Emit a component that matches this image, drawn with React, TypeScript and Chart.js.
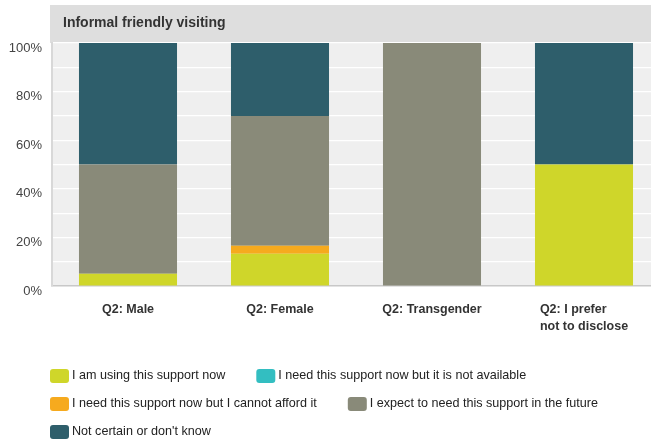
import React, { useEffect, useRef } from "react";
import { Chart, registerables } from "chart.js";

Chart.register(...registerables);

const chartTitle = "Informal friendly visiting";
const categories: string[][] = [
  ["Q2: Male"],
  ["Q2: Female"],
  ["Q2: Transgender"],
  ["Q2: I prefer", "not to disclose"],
];
const usingNow = [5, 13.3, 0, 50];
const notAvailable = [0, 0, 0, 0];
const cannotAfford = [0, 3.3, 0, 0];
const expectFuture = [45, 53.4, 100, 0];
const notCertain = [50, 30, 0, 50];

const seriesNames = [
  "I am using this support now",
  "I need this support now but it is not available",
  "I need this support now but I cannot afford it",
  "I expect to need this support in the future",
  "Not certain or don't know",
];
const seriesColors = ["#cfd62a", "#33bec1", "#f6aa1e", "#898a79", "#2e5e6b"];

const FONT = "'Liberation Sans', Arial, sans-serif";

function roundRect(ctx: CanvasRenderingContext2D, x: number, y: number, w: number, h: number, r: number) {
  ctx.beginPath();
  ctx.moveTo(x + r, y);
  ctx.lineTo(x + w - r, y);
  ctx.quadraticCurveTo(x + w, y, x + w, y + r);
  ctx.lineTo(x + w, y + h - r);
  ctx.quadraticCurveTo(x + w, y + h, x + w - r, y + h);
  ctx.lineTo(x + r, y + h);
  ctx.quadraticCurveTo(x, y + h, x, y + h - r);
  ctx.lineTo(x, y + r);
  ctx.quadraticCurveTo(x, y, x + r, y);
  ctx.closePath();
}

const decorPlugin = {
  id: "decor",
  beforeDraw(chart: any) {
    const { ctx, chartArea } = chart;
    ctx.save();
    ctx.fillStyle = "#ffffff";
    ctx.fillRect(0, 0, chart.width, chart.height);
    // header band
    ctx.fillStyle = "#dedede";
    ctx.fillRect(50, 5, chart.width - 50, chartArea.top - 5);
    ctx.fillStyle = "#333333";
    ctx.font = `bold 14px ${FONT}`;
    ctx.textBaseline = "middle";
    ctx.textAlign = "left";
    ctx.fillText(chartTitle, 63, 23);
    // plot background
    ctx.fillStyle = "#efefef";
    ctx.fillRect(chartArea.left, chartArea.top, chartArea.right - chartArea.left, chartArea.bottom - chartArea.top);
    ctx.restore();
  },
  afterDraw(chart: any) {
    const { ctx, chartArea } = chart;
    const xScale = chart.scales.x;
    ctx.save();
    // category labels
    ctx.font = `bold 12.5px ${FONT}`;
    ctx.fillStyle = "#333333";
    ctx.textBaseline = "middle";
    ctx.textAlign = "left";
    const labels = chart.data.labels as string[][];
    labels.forEach((lines, i) => {
      const cx = xScale.getPixelForValue(i);
      const maxW = Math.max(...lines.map((l) => ctx.measureText(l).width));
      const x0 = cx - maxW / 2;
      lines.forEach((line, j) => {
        const w = ctx.measureText(line).width;
        const x = lines.length > 1 ? x0 : cx - w / 2;
        ctx.fillText(line, x, chartArea.bottom + 24 + j * 17);
      });
    });
    // legend (flow layout)
    ctx.font = `12.6px ${FONT}`;
    ctx.fillStyle = "#222222";
    const rowYs = [376, 404, 432];
    let row = 0;
    let x = 50;
    const maxRight = 645;
    chart.data.datasets.forEach((ds: any) => {
      const tw = ctx.measureText(ds.label).width;
      const itemW = 22 + tw;
      if (x > 50 && x + itemW > maxRight) {
        row += 1;
        x = 50;
      }
      const cy = rowYs[row];
      ctx.fillStyle = ds.backgroundColor;
      roundRect(ctx, x, cy - 7, 19, 14, 3);
      ctx.fill();
      ctx.fillStyle = "#222222";
      ctx.fillText(ds.label, x + 22, cy);
      x += itemW + 31;
    });
    ctx.restore();
  },
};

export default function App() {
  const canvasRef = useRef<HTMLCanvasElement | null>(null);

  useEffect(() => {
    if (!canvasRef.current) return;
    const series = [usingNow, notAvailable, cannotAfford, expectFuture, notCertain];
    const chart = new Chart(canvasRef.current, {
      type: "bar",
      data: {
        labels: categories as any,
        datasets: series.map((values, i) => ({
          label: seriesNames[i],
          data: values,
          backgroundColor: seriesColors[i],
          borderWidth: 0,
          categoryPercentage: 1,
          barPercentage: 0.645,
        })),
      },
      options: {
        responsive: false,
        animation: false,
        devicePixelRatio: 1,
        layout: { padding: { top: 43, right: 20, left: 0, bottom: 0 } },
        plugins: {
          legend: { display: false },
          title: { display: false },
          tooltip: { enabled: false },
        },
        scales: {
          x: {
            stacked: true,
            grid: { display: false, drawTicks: false },
            border: { display: true, color: "#c8c8c8", width: 1.5 },
            ticks: { display: false },
            afterFit: (scale: any) => {
              scale.height = 442 - 286;
            },
          },
          y: {
            stacked: true,
            min: 0,
            max: 100,
            grid: { color: "#ffffff", lineWidth: 1.2, drawTicks: false },
            border: { display: true, color: "#d8d8d8", width: 2 },
            ticks: {
              stepSize: 10,
              padding: 10,
              labelOffset: 5,
              color: "#444444",
              font: { family: FONT, size: 13 },
              callback: (v: any) => (Number(v) % 20 === 0 ? `${v}%` : ""),
            },
            afterFit: (scale: any) => {
              scale.width = 52;
            },
          },
        },
      },
      plugins: [decorPlugin],
    });
    return () => chart.destroy();
  }, []);

  return (
    <div style={{ position: "fixed", left: 0, top: 0, width: 651, height: 442, overflow: "hidden", background: "#fff" }}>
      <canvas ref={canvasRef} width={680} height={442} style={{ display: "block" }} />
    </div>
  );
}
